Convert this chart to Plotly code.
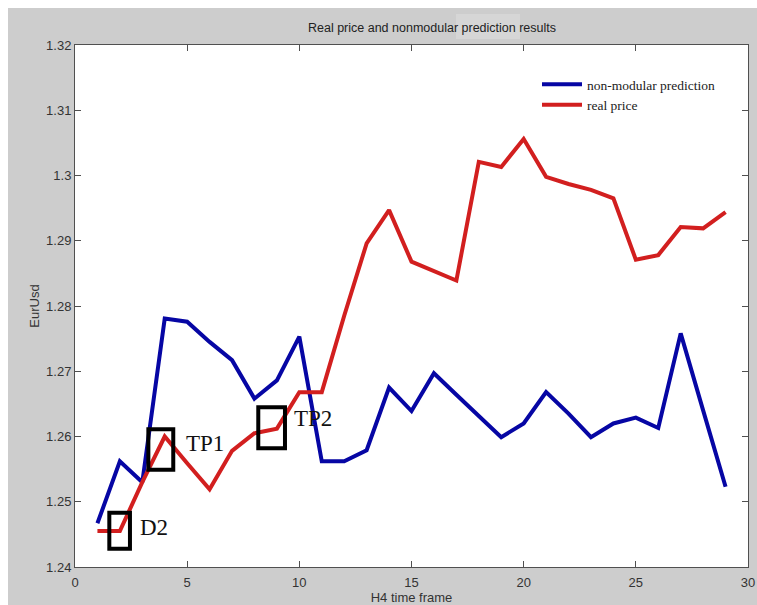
import plotly.graph_objects as go

# H4 bars (time frame index)
steps = list(range(1, 30))

# non-modular network prediction of EUR/USD
prediction = [1.2467, 1.2562, 1.2530, 1.2781, 1.2776, 1.2745, 1.2717, 1.2658, 1.2686, 1.2753,
              1.2562, 1.2562, 1.2579, 1.2675, 1.2639, 1.2697, 1.2664, 1.2632, 1.2599, 1.2620,
              1.2668, 1.2635, 1.2599, 1.2620, 1.2629, 1.2613, 1.2758, 1.2640, 1.2523]

# observed EUR/USD close
real_price = [1.2455, 1.2455, 1.2530, 1.2600, 1.2559, 1.2519, 1.2578, 1.2605, 1.2612, 1.2668,
              1.2668, 1.2785, 1.2896, 1.2947, 1.2868, 1.2854, 1.2839, 1.3021, 1.3013, 1.3056,
              1.2998, 1.2987, 1.2978, 1.2965, 1.2871, 1.2878, 1.2921, 1.2919, 1.2944]

# marked turning points: label, box x-extent, box y-extent, label anchor
marker_labels = ["D2", "TP1", "TP2"]
marker_x = [(1.53, 2.45), (3.27, 4.38), (8.17, 9.36)]
marker_y = [(1.2428, 1.2483), (1.2549, 1.2611), (1.2582, 1.2645)]
label_pos = [(2.80, 1.2460), (4.85, 1.2590), (9.68, 1.2628)]

x_ticks = [0, 5, 10, 15, 20, 25, 30]
y_ticks = [1.24, 1.25, 1.26, 1.27, 1.28, 1.29, 1.30, 1.31, 1.32]
y_tick_text = ["1.24", "1.25", "1.26", "1.27", "1.28", "1.29", "1.3", "1.31", "1.32"]

BLUE = "#0606a4"
RED = "#d21f1f"
GRAY_BG = "#cdcdcd"
SANS = "Liberation Sans, Arial, sans-serif"
SERIF = "Liberation Serif, Times New Roman, serif"

fig = go.Figure()
fig.add_trace(go.Scatter(x=steps, y=prediction, mode="lines", name="non-modular prediction",
                         line=dict(color=BLUE, width=4)))
fig.add_trace(go.Scatter(x=steps, y=real_price, mode="lines", name="real price",
                         line=dict(color=RED, width=4)))

for lab, (x0, x1), (y0, y1), (lx, ly) in zip(marker_labels, marker_x, marker_y, label_pos):
    fig.add_shape(type="rect", xref="x", yref="y", x0=x0, x1=x1, y0=y0, y1=y1,
                  line=dict(color="black", width=4), fillcolor="rgba(0,0,0,0)")
    fig.add_annotation(x=lx, y=ly, xref="x", yref="y", text=lab, showarrow=False,
                       xanchor="left", yanchor="middle",
                       font=dict(family=SERIF, size=23, color="#111111"))

# figure window geometry in pixels
W, H = 757, 605
L, R, T, B = 75, 9, 45, 38
pw, ph = W - L - R, H - T - B
def px_x(p):
    return (p - L) / pw
def px_y(p):
    return (H - B - p) / ph

# thin white edge along the top and left of the figure window
fig.add_shape(type="rect", xref="paper", yref="paper", x0=px_x(0), x1=px_x(W),
              y0=px_y(8), y1=px_y(0), line=dict(width=0), fillcolor="white", layer="above")
fig.add_shape(type="rect", xref="paper", yref="paper", x0=px_x(0), x1=px_x(8),
              y0=px_y(H), y1=px_y(0), line=dict(width=0), fillcolor="white", layer="above")
# faint lighter patch behind the end of the title
fig.add_shape(type="rect", xref="paper", yref="paper", x0=px_x(456), x1=px_x(520),
              y0=px_y(39), y1=px_y(14), line=dict(width=0), fillcolor="#d6d6d6", layer="below")

axis_common = dict(showline=True, linecolor="#505050", linewidth=1, mirror="ticks",
                   ticks="inside", ticklen=6, tickcolor="#505050", showgrid=False,
                   zeroline=False, automargin=False,
                   tickfont=dict(family=SANS, size=13, color="#333333"))

fig.update_xaxes(range=[0, 30], tickvals=x_ticks, ticktext=[str(v) for v in x_ticks],
                 ticklabelstandoff=3,
                 title=dict(text="H4 time frame", font=dict(family=SANS, size=13, color="#333333"),
                            standoff=6),
                 **axis_common)
fig.update_yaxes(range=[1.24, 1.32], tickvals=y_ticks, ticktext=y_tick_text,
                 title=dict(text="EurUsd", font=dict(family=SANS, size=13, color="#333333"),
                            standoff=3),
                 **axis_common)

fig.update_layout(
    width=W, height=H,
    margin=dict(l=L, r=R, t=T, b=B, pad=0, autoexpand=False),
    paper_bgcolor=GRAY_BG, plot_bgcolor="white",
    title=dict(text="Real price and nonmodular prediction results", x=432 / W, xanchor="center",
               y=1 - 28 / H, yanchor="middle", font=dict(family=SANS, size=12.5, color="#222222")),
    legend=dict(x=px_x(537), y=px_y(69), xanchor="left", yanchor="top",
                bgcolor="rgba(0,0,0,0)", borderwidth=0, itemwidth=40,
                font=dict(family=SERIF, size=13.5, color="#222222")),
    showlegend=True,
)

fig.write_html("out.html")
